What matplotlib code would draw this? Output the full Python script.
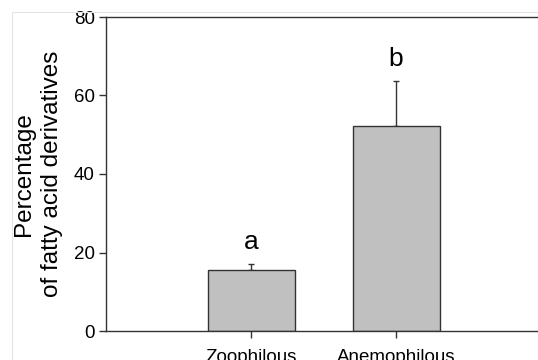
import matplotlib

matplotlib.use("Agg")
import matplotlib.pyplot as plt
from matplotlib.patches import Rectangle

# group means, upper standard errors and significance letters
categories = ["Zoophilous", "Anemophilous"]
means = [15.5, 52.2]
errors = [1.6, 11.4]
letters = ["a", "b"]

plt.rcParams["font.family"] = ["Liberation Sans", "DejaVu Sans"]

fig = plt.figure(figsize=(5.38, 3.6), dpi=100)
fig.patches.append(
    Rectangle((12 / 538, -0.1), 1.2, 1 - 12 / 360 + 0.1, transform=fig.transFigure,
              facecolor="none", edgecolor="#e4e4e4", linewidth=0.8)
)
ax = fig.add_axes([106 / 538, 29 / 360, 435 / 538, 314 / 360])

edge = "#333333"
x = list(range(len(categories)))
ax.bar(x, means, width=0.6, color="#c0c0c0", edgecolor=edge, linewidth=1.0, zorder=2)
ax.errorbar(x, means, yerr=[[0] * len(errors), errors], fmt="none",
            ecolor=edge, elinewidth=1.0, capsize=2.5, capthick=1.0, zorder=1)
for xi, m, e, lab in zip(x, means, errors, letters):
    ax.text(xi, m + e + 3.8, lab, ha="center", va="baseline", fontsize=19)

ax.set_xlim(-1, 2)
ax.set_ylim(0, 80)
ax.set_yticks([0, 20, 40, 60, 80])
ax.set_xticks(x)
ax.set_xticklabels(categories)
ax.tick_params(axis="both", labelsize=13.5, color=edge, width=1.0, length=5, pad=3)
ax.tick_params(axis="x", pad=8)
for side in ["left", "bottom", "top"]:
    ax.spines[side].set_color(edge)
    ax.spines[side].set_linewidth(1.0)
ax.spines["right"].set_visible(False)
ax.set_ylabel("Percentage\nof fatty acid derivatives", fontsize=17.5, linespacing=1.32, labelpad=8)

fig.savefig("out.png", dpi=100)
